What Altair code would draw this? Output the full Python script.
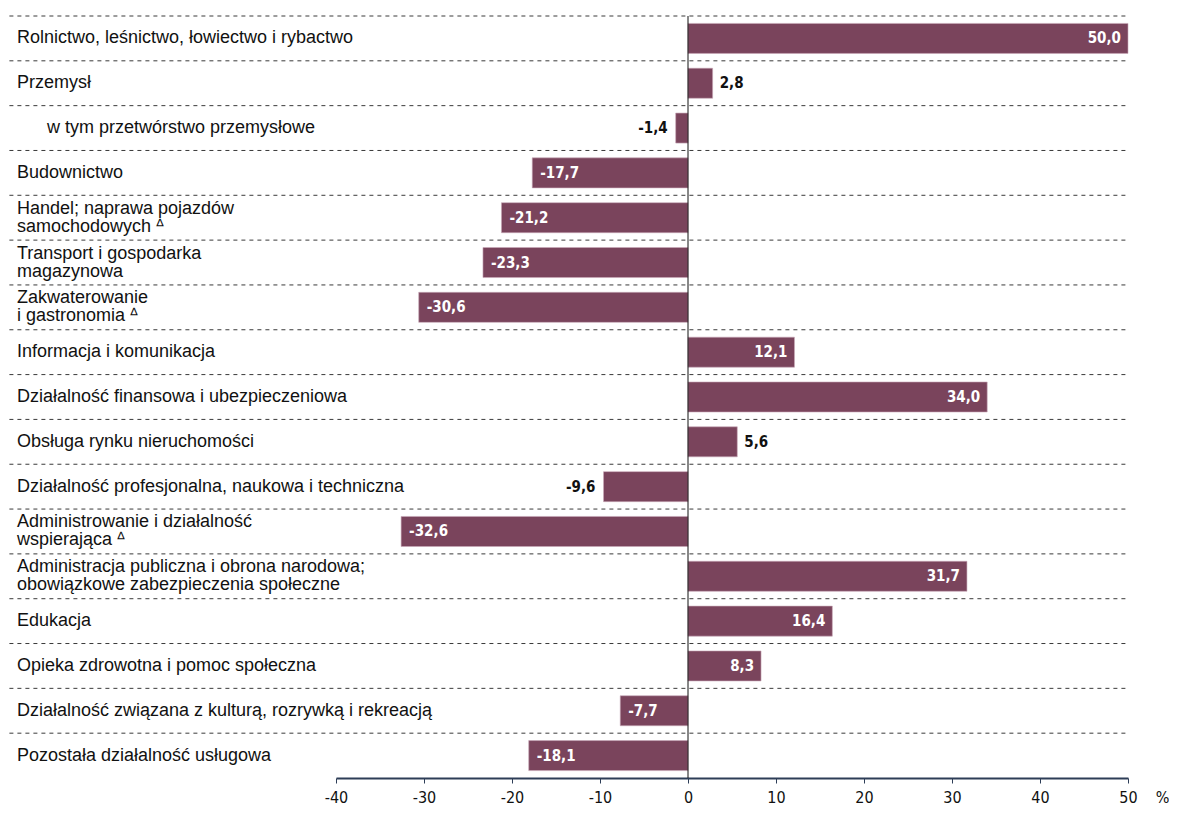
import altair as alt
import pandas as pd

TRI = "\u2009ᐞ"
categories = [
    "Rolnictwo, leśnictwo, łowiectwo i rybactwo",
    "Przemysł",
    "w tym przetwórstwo przemysłowe",
    "Budownictwo",
    "Handel; naprawa pojazdów\nsamochodowych" + TRI,
    "Transport i gospodarka\nmagazynowa",
    "Zakwaterowanie\ni gastronomia" + TRI,
    "Informacja i komunikacja",
    "Działalność finansowa i ubezpieczeniowa",
    "Obsługa rynku nieruchomości",
    "Działalność profesjonalna, naukowa i techniczna",
    "Administrowanie i działalność\nwspierająca" + TRI,
    "Administracja publiczna i obrona narodowa;\nobowiązkowe zabezpieczenia społeczne",
    "Edukacja",
    "Opieka zdrowotna i pomoc społeczna",
    "Działalność związana z kulturą, rozrywką i rekreacją",
    "Pozostała działalność usługowa",
]
values = [50.0, 2.8, -1.4, -17.7, -21.2, -23.3, -30.6, 12.1, 34.0, 5.6,
          -9.6, -32.6, 31.7, 16.4, 8.3, -7.7, -18.1]
label_inside = [True, False, False, True, True, True, True, True, True, False,
                False, True, True, True, True, True, True]
x_ticks = [-40, -30, -20, -10, 0, 10, 20, 30, 40, 50]

df = pd.DataFrame({
    "cat": categories,
    "value": values,
    "inside": label_inside,
    "label": [f"{v:.1f}".replace(".", ",") for v in values],
})

W, H = 792, 762
LEFT_EXT = 326.6
BAR = "#7a445c"
AX = "#2d3d57"
NUM_FONT = "DejaVu Sans Condensed, Liberation Sans Narrow, Arial Narrow, sans-serif"
LBL_FONT = "Liberation Sans, Arial, sans-serif"

y_scale = alt.Scale(paddingInner=0, paddingOuter=0)
y_axis = alt.Axis(
    labelAlign="left",
    labelPadding={"condition": {"test": "indexof(datum.label, 'w tym') == 0", "value": 289.6},
                  "value": 319.6},
    labelOffset={"condition": {"test": "indexof(datum.label, '\\n') >= 0", "value": -9},
                 "value": 0},
    ticks=False, tickSize=0, domain=False, grid=False,
    labelFont=LBL_FONT, labelFontSize=18, labelColor="#111",
    labelLimit=500, labelLineHeight=18, labelBaseline="middle",
    labelExpr="split(datum.label, '\\n')")
x_scale = alt.Scale(domain=[-40, 50], nice=False, zero=False)

base = alt.Chart(df)

seps = base.mark_rule(strokeDash=[4, 4], color="#3a3a3a", strokeWidth=1).encode(
    y=alt.Y("cat:N", sort=None, bandPosition=0, scale=y_scale, axis=y_axis, title=None),
    x=alt.value(-LEFT_EXT),
    x2=alt.value(W),
)

bars = base.mark_bar(height=alt.RelativeBandSize(0.67), color=BAR,
                     stroke="#c9aab8", strokeWidth=0.6).encode(
    y=alt.Y("cat:N", sort=None, title=None, scale=y_scale, axis=y_axis),
    x=alt.X("value:Q", scale=x_scale, title="%",
            axis=alt.Axis(values=x_ticks, grid=False, domainColor=AX, domainWidth=2,
                          tickColor=AX, tickWidth=1, tickSize=5,
                          labelFont=NUM_FONT, labelFontSize=16, labelColor="#111",
                          labelPadding=6, labelFlush=False, labelExpr="datum.value",
                          titleFont=NUM_FONT, titleFontSize=16, titleFontWeight="normal",
                          titleColor="#111", titleAngle=0, titleX=826, titleY=11,
                          titleAlign="center", titleBaseline="top")),
    x2=alt.datum(0),
)

zero = alt.Chart(pd.DataFrame({"z": [0]})).mark_rule(color="#111", strokeWidth=1).encode(
    x=alt.X("z:Q", scale=x_scale),
    y=alt.value(0),
    y2=alt.value(H),
)

def txt(filt, align, dx, color):
    return base.transform_filter(filt).mark_text(
        align=align, baseline="middle", dx=dx, font=NUM_FONT, fontSize=15,
        fontWeight="bold", color=color,
    ).encode(y=alt.Y("cat:N", sort=None, scale=y_scale, axis=y_axis, title=None),
             x=alt.X("value:Q", scale=x_scale), text="label:N")

t1 = txt("datum.inside && datum.value > 0", "right", -7, "white")
t2 = txt("datum.inside && datum.value < 0", "left", 8, "white")
t3 = txt("!datum.inside && datum.value > 0", "left", 7, "#111")
t4 = txt("!datum.inside && datum.value < 0", "right", -8, "#111")

chart = alt.layer(seps, bars, zero, t1, t2, t3, t4).properties(
    width=W, height=H,
    padding={"left": 0, "top": 7, "right": 0, "bottom": 0},
).configure_view(stroke=None)

chart.save("out.html", embed_options={"renderer": "svg", "actions": False})
